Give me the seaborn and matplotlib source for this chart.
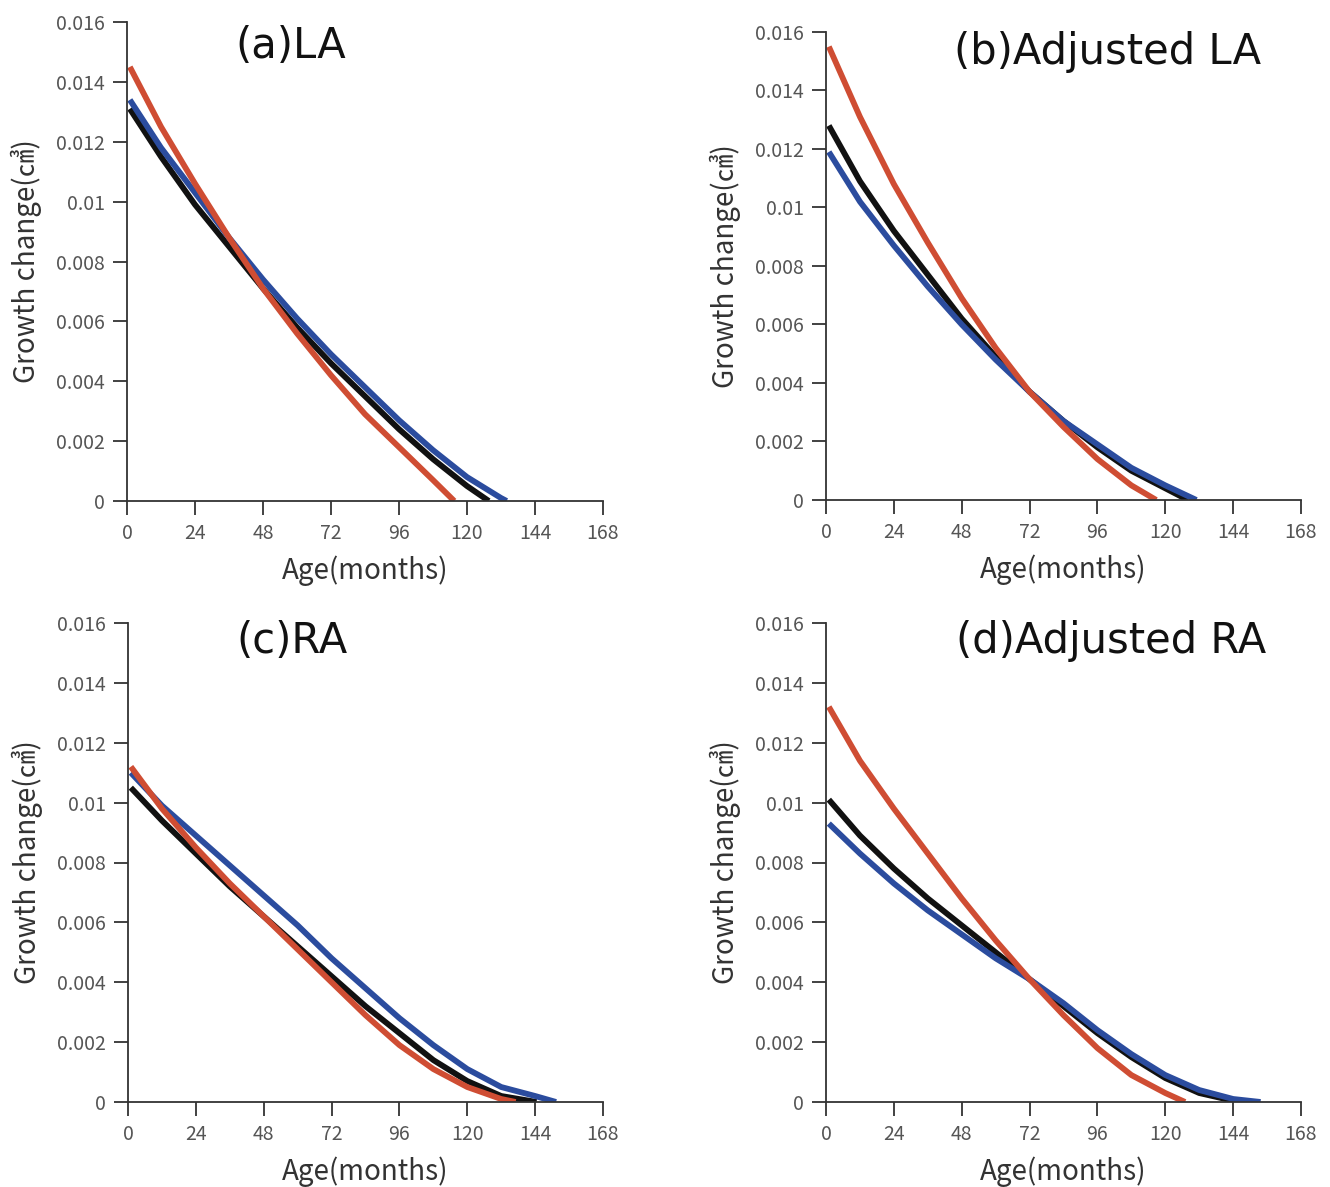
import pandas as pd
import seaborn as sns
import matplotlib.pyplot as plt

# 月齢のグリッド (各曲線は途中で0に達して終わる)
ages = [1, 12, 24, 36, 48, 60, 72, 84, 96, 108, 120, 132, 144]

# (a) LA
a_red = [0.0145, 0.0125, 0.0106, 0.0088, 0.0071, 0.0056, 0.0042, 0.0029, 0.0018, 0.0007]
a_black = [0.0131, 0.0115, 0.0099, 0.0085, 0.0071, 0.0058, 0.0046, 0.0035, 0.0024, 0.0014, 0.0005]
a_blue = [0.0134, 0.0118, 0.0103, 0.0088, 0.0074, 0.0061, 0.0049, 0.0038, 0.0027, 0.0017, 0.0008, 0.0001]
a_end = {'red': 115.5, 'black': 127.7, 'blue': 134.0}

# (b) Adjusted LA
b_red = [0.0155, 0.0131, 0.0108, 0.0088, 0.0069, 0.0052, 0.0037, 0.0025, 0.0014, 0.0005]
b_black = [0.0128, 0.0109, 0.0092, 0.0077, 0.0062, 0.0049, 0.0037, 0.0027, 0.0018, 0.0010, 0.0004]
b_blue = [0.0119, 0.0102, 0.0087, 0.0073, 0.0060, 0.0048, 0.0037, 0.0027, 0.0019, 0.0011, 0.0005]
b_end = {'red': 116.8, 'black': 128.0, 'blue': 131.0}

# (c) RA
c_red = [0.0112, 0.0098, 0.0085, 0.0073, 0.0062, 0.0051, 0.0040, 0.0029, 0.0019, 0.0011, 0.0005, 0.0001]
c_black = [0.0105, 0.0094, 0.0083, 0.0072, 0.0062, 0.0052, 0.0042, 0.0032, 0.0023, 0.0014, 0.0007, 0.0002]
c_blue = [0.0110, 0.0099, 0.0089, 0.0079, 0.0069, 0.0059, 0.0048, 0.0038, 0.0028, 0.0019, 0.0011, 0.0005, 0.0002]
c_end = {'red': 137.1, 'black': 144.5, 'blue': 151.4}

# (d) Adjusted RA
d_red = [0.0132, 0.0114, 0.0098, 0.0083, 0.0068, 0.0054, 0.0041, 0.0029, 0.0018, 0.0009, 0.0003]
d_black = [0.0101, 0.0089, 0.0078, 0.0068, 0.0059, 0.0050, 0.0041, 0.0032, 0.0023, 0.0015, 0.0008, 0.0003]
d_blue = [0.0093, 0.0083, 0.0073, 0.0064, 0.0056, 0.0048, 0.0041, 0.0033, 0.0024, 0.0016, 0.0009, 0.0004, 0.0001]
d_end = {'red': 127.0, 'black': 146.0, 'blue': 153.7}

titles = ['(a)LA', '(b)Adjusted LA', '(c)RA', '(d)Adjusted RA']
panels = [
    {'red': a_red, 'black': a_black, 'blue': a_blue, 'end': a_end},
    {'red': b_red, 'black': b_black, 'blue': b_blue, 'end': b_end},
    {'red': c_red, 'black': c_black, 'blue': c_blue, 'end': c_end},
    {'red': d_red, 'black': d_black, 'blue': d_blue, 'end': d_end},
]
x_ticks = [0, 24, 48, 72, 96, 120, 144, 168]
y_ticks = [0, 0.002, 0.004, 0.006, 0.008, 0.01, 0.012, 0.014, 0.016]
y_tick_labels = ['0', '0.002', '0.004', '0.006', '0.008', '0.01', '0.012', '0.014', '0.016']

palette = {'black': '#111111', 'blue': '#2b4c9e', 'red': '#cf4d33'}

sns.set_style('ticks')
plt.rcParams['font.family'] = ['Noto Sans CJK JP', 'DejaVu Sans']

W, H = 1330, 1187
fig = plt.figure(figsize=(W / 100, H / 100), dpi=100)
# 各パネルの位置 (ピクセル: 左, 上(0.016), 右(168), 下(0))
boxes = [(127, 22, 603, 501), (826, 32, 1301, 500), (128, 623, 603, 1102), (826, 623, 1301, 1102)]
title_pos = [(0.345, 0.95), (0.592, 0.958), (0.345, 0.962), (0.60, 0.962)]

for i, p in enumerate(panels):
    l, t, r, b = boxes[i]
    ax = fig.add_axes([l / W, 1 - b / H, (r - l) / W, (b - t) / H])

    rows = []
    for key in ['black', 'blue', 'red']:
        vals = p[key]
        xs = ages[:len(vals)] + [p['end'][key]]
        ys = vals + [0.0]
        for x, y in zip(xs, ys):
            rows.append({'age': x, 'growth': y, 'series': key})
    df = pd.DataFrame(rows)

    sns.lineplot(data=df, x='age', y='growth', hue='series', hue_order=['black', 'blue', 'red'],
                 palette=palette, linewidth=4.2, legend=False, ax=ax, sort=False,
                 solid_capstyle='butt', solid_joinstyle='round')

    ax.set_xlim(0, 168)
    ax.set_ylim(0, 0.016)
    ax.set_xticks(x_ticks)
    ax.set_yticks(y_ticks)
    ax.set_yticklabels(y_tick_labels)
    ax.tick_params(direction='out', length=10, width=1.3, color='#333333',
                   labelsize=14, labelcolor='#555555', pad=6)
    for s in ['top', 'right']:
        ax.spines[s].set_visible(False)
    for s in ['left', 'bottom']:
        ax.spines[s].set_linewidth(1.3)
        ax.spines[s].set_color('#333333')

    ax.set_xlabel('Age(months)', fontsize=20, color='#333333', labelpad=8)
    ax.set_ylabel('Growth change(㎤)', fontsize=20, color='#333333', labelpad=10)

    tx, ty = title_pos[i]
    ax.text(tx, ty, titles[i], transform=ax.transAxes, ha='center', va='center',
            fontsize=30, color='#111111', family=['DejaVu Sans'])

plt.savefig('out.png', dpi=100)
